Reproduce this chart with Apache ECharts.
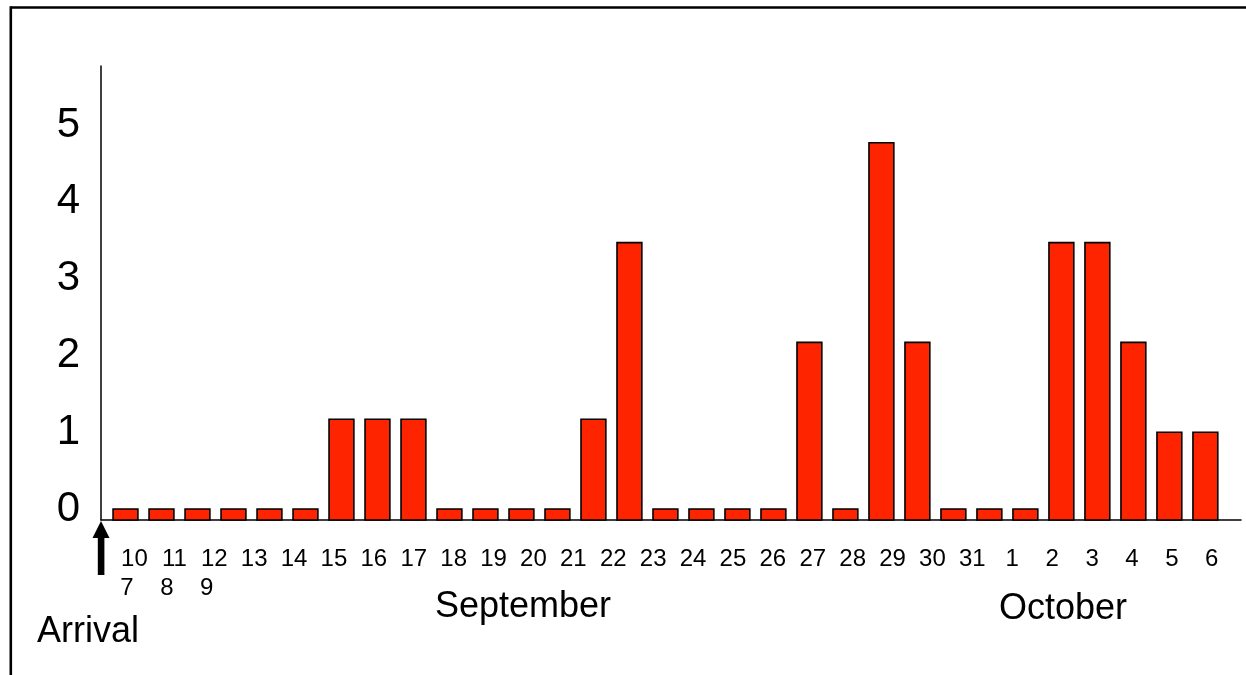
<!DOCTYPE html>
<html>
<head>
<meta charset="utf-8">
<script src="https://cdn.jsdelivr.net/npm/echarts@6/dist/echarts.min.js"></script>
<style>
html,body{margin:0;padding:0;background:#fff;}
#chart{width:1246px;height:675px;}
</style>
</head>
<body>
<div id="chart"></div>
<script>
// ---- data ----
var days = ['7','8','9','10','11','12','13','14','15','16','17','18','19','20','21','22','23','24','25','26','27','28','29','30','31','1','2','3','4','5','6'];
var counts = [0,0,0,0,0,0,1.17,1.17,1.17,0,0,0,0,1.17,3.47,0,0,0,0,2.17,0,4.77,2.17,0,0,0,3.47,3.47,2.17,1.0,1.0];
var tickLabels = ['10','11','12','13','14','15','16','17','18','19','20','21','22','23','24','25','26','27','28','29','30','31','1','2','3','4','5','6'];
var subTickLabels = ['7','8','9'];
var yTicks = [0,1,2,3,4,5];
var monthLabels = ['September','October'];
var arrivalLabel = 'Arrival';

var FONT = 'Liberation Sans, Arial, sans-serif';
var Y_MIN = -0.143, Y_MAX = 5.77;

var chart = echarts.init(document.getElementById('chart'), null, {renderer:'canvas'});

var barData = counts.map(function(v,i){ return [i, v, days[i]]; });

var option = {
  backgroundColor:'#ffffff',
  animation:false,
  grid:[
    {left:101, right:5, top:66, bottom:155, containLabel:false},
    {left:114.5, right:14.3, top:66, bottom:155, containLabel:false}
  ],
  xAxis:[
    {type:'value', gridIndex:0, min:-0.68, max:30.99,
     axisLine:{show:true, onZero:false, lineStyle:{color:'#000', width:1.5}},
     axisTick:{show:false}, axisLabel:{show:false}, splitLine:{show:false}},
    {type:'category', gridIndex:1, data:tickLabels, boundaryGap:true, position:'bottom',
     axisLine:{show:false}, axisTick:{show:false}, splitLine:{show:false},
     axisLabel:{show:true, interval:0, color:'#000', fontFamily:FONT, fontSize:24, lineHeight:29, margin:25,
       formatter:function(val, idx){
         return idx < subTickLabels.length ? val + '\n{s|' + subTickLabels[idx] + '}' : val;
       },
       rich:{s:{fontFamily:FONT, fontSize:24, lineHeight:29, color:'#000', padding:[0,15,0,0]}}
     }}
  ],
  yAxis:[
    {type:'value', gridIndex:0, min:Y_MIN, max:Y_MAX,
     axisLine:{show:true, onZero:false, lineStyle:{color:'#000', width:1.5}},
     axisTick:{show:false}, splitLine:{show:false},
     axisLabel:{show:true, customValues:yTicks, color:'#000', fontFamily:FONT, fontSize:42, margin:21}},
    {type:'value', gridIndex:1, show:false, min:0, max:1}
  ],
  series:[
    {type:'custom', xAxisIndex:0, yAxisIndex:0, data:barData,
     encode:{x:0, y:1},
     renderItem:function(params, api){
       var x = api.value(0), v = api.value(1);
       var top = api.coord([x, v]);
       var base = api.coord([x, Y_MIN]);
       var w = api.size([1,0])[0]*0.69;
       return {type:'rect',
         shape:{x:top[0]-w/2, y:top[1], width:w, height:base[1]-top[1]},
         style:{fill:'#FF2400', stroke:'#000', lineWidth:1.6}};
     }}
  ],
  graphic:[
    {type:'line', shape:{x1:10.8, y1:7.5, x2:1246, y2:7.5}, style:{stroke:'#000', lineWidth:2.6}},
    {type:'line', shape:{x1:10.8, y1:6.2, x2:10.8, y2:675}, style:{stroke:'#000', lineWidth:2.6}},
    {type:'polygon', shape:{points:[[101,521],[92.5,538],[109.5,538]]}, style:{fill:'#000'}},
    {type:'rect', shape:{x:97.8, y:536, width:6.6, height:39}, style:{fill:'#000'}},
    {type:'text', x:37, y:632, style:{text:arrivalLabel, font:'36px ' + FONT, fill:'#000', verticalAlign:'middle', align:'left'}},
    {type:'text', x:523, y:607.5, style:{text:monthLabels[0], font:'36px ' + FONT, fill:'#000', verticalAlign:'middle', align:'center'}},
    {type:'text', x:1063, y:609, style:{text:monthLabels[1], font:'36px ' + FONT, fill:'#000', verticalAlign:'middle', align:'center'}}
  ]
};
chart.setOption(option);
</script>
</body>
</html>
